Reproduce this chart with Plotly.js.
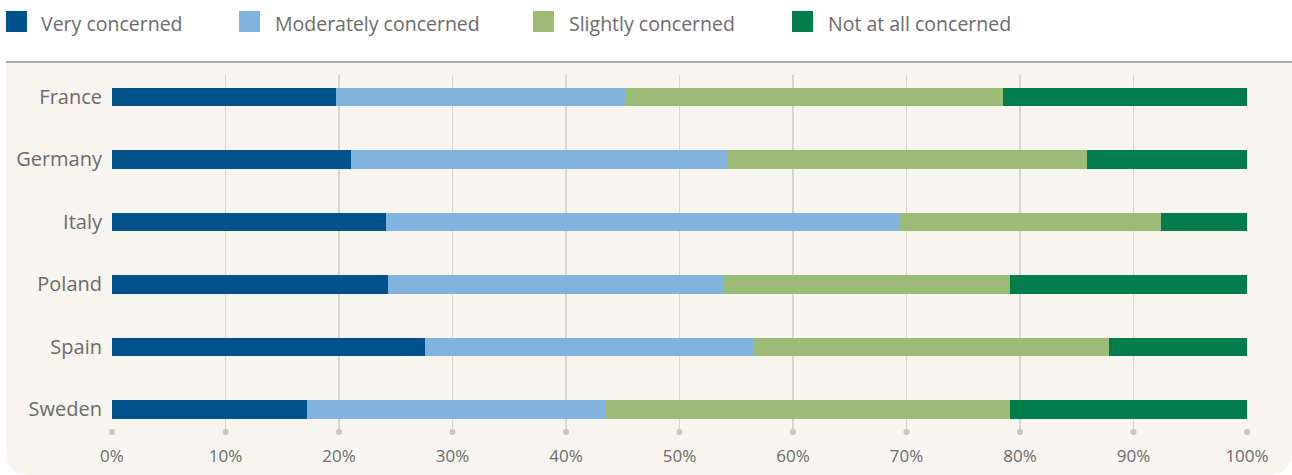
<!DOCTYPE html>
<html>
<head>
<meta charset="utf-8">
<script src="https://cdn.plot.ly/plotly-3.0.1.min.js"></script>
<style>html,body{margin:0;padding:0;background:#fff;}#chart{width:1292px;height:475px;}</style>
</head>
<body>
<div id="chart"></div>
<script>
const countries = ["France", "Germany", "Italy", "Poland", "Spain", "Sweden"];
const seriesNames = ["Very concerned", "Moderately concerned", "Slightly concerned", "Not at all concerned"];
const veryConcerned = [19.7, 21.1, 24.1, 24.3, 27.6, 17.2];
const moderatelyConcerned = [25.6, 33.1, 45.2, 29.5, 28.9, 26.3];
const slightlyConcerned = [33.2, 31.7, 23.1, 25.3, 31.3, 35.6];
const notAtAllConcerned = [21.5, 14.1, 7.6, 20.9, 12.2, 20.9];
const tickValues = [0, 10, 20, 30, 40, 50, 60, 70, 80, 90, 100];
const tickLabels = ["0%", "10%", "20%", "30%", "40%", "50%", "60%", "70%", "80%", "90%", "100%"];

const colors = ["#00528c", "#80b3dd", "#9bbb76", "#007d4a"];
const seriesValues = [veryConcerned, moderatelyConcerned, slightlyConcerned, notAtAllConcerned];

const W = 1292, H = 475;
const L = 112, R = 45, T = 75, B = 43;
const pw = W - L - R, ph = H - T - B;
const px = v => (v - L) / pw;
const py = v => (H - B - v) / ph;

const traces = seriesValues.map((vals, i) => ({
  type: "bar",
  orientation: "h",
  name: seriesNames[i],
  y: countries,
  x: vals,
  width: 0.30,
  marker: {color: colors[i], line: {width: 0}},
  showlegend: false,
  hoverinfo: "x+y+name"
}));

traces.push({
  type: "scatter",
  mode: "markers",
  x: tickValues,
  y: tickValues.map(() => 0),
  yaxis: "y2",
  marker: {color: "#c9c5c1", size: 6},
  cliponaxis: false,
  showlegend: false,
  hoverinfo: "skip"
});

const font = "Open Sans, Lato, sans-serif";
const textColor = "#6b6b6b";

const shapes = [];
const annotations = [];

// panel background with rounded bottom corners
const r = 24;
const x0 = 6, x1 = 1292, y0 = 62, y1 = 475;
shapes.push({
  type: "path",
  xref: "paper", yref: "paper",
  path: `M ${px(x0)} ${py(y0)} L ${px(x1)} ${py(y0)} L ${px(x1)} ${py(y1 - r)} Q ${px(x1)} ${py(y1)} ${px(x1 - r)} ${py(y1)} L ${px(x0 + r)} ${py(y1)} Q ${px(x0)} ${py(y1)} ${px(x0)} ${py(y1 - r)} Z`,
  fillcolor: "#f8f5f0",
  line: {width: 0},
  layer: "below"
});
shapes.push({
  type: "line", xref: "paper", yref: "paper",
  x0: px(x0), x1: px(x1), y0: py(y0), y1: py(y0),
  line: {color: "#8c8c8c", width: 1.5},
  layer: "below"
});

// legend
const legSquareX = [6, 239, 533, 792];
const legTextX = [41, 275, 569, 828];
seriesNames.forEach((n, i) => {
  shapes.push({
    type: "rect", xref: "paper", yref: "paper",
    x0: px(legSquareX[i]), x1: px(legSquareX[i] + 21),
    y0: py(11), y1: py(32),
    fillcolor: colors[i], line: {width: 0}
  });
  annotations.push({
    xref: "paper", yref: "paper",
    x: px(legTextX[i] - 2), y: py(23),
    xanchor: "left", yanchor: "middle",
    text: n, showarrow: false,
    font: {family: font, size: 19.5, color: textColor}
  });
});

const layout = {
  width: W, height: H,
  margin: {l: L, r: R, t: T, b: B, pad: 0},
  paper_bgcolor: "#ffffff",
  plot_bgcolor: "rgba(0,0,0,0)",
  barmode: "stack",
  showlegend: false,
  xaxis: {
    range: [0, 100],
    tickvals: tickValues,
    ticktext: tickLabels,
    showgrid: true,
    gridcolor: "#d9d5d1",
    gridwidth: 1.5,
    zeroline: false,
    showline: false,
    ticks: "",
    ticklabelstandoff: 12,
    tickfont: {family: font, size: 17, color: textColor},
    fixedrange: true
  },
  yaxis: {
    type: "category",
    categoryorder: "array",
    categoryarray: countries,
    range: [5.36, -0.35],
    showgrid: false,
    zeroline: false,
    showline: false,
    ticks: "",
    ticklabelstandoff: 9,
    tickfont: {family: font, size: 20, color: textColor},
    fixedrange: true
  },
  yaxis2: {
    overlaying: "y",
    range: [0, 1],
    visible: false,
    fixedrange: true
  },
  shapes: shapes,
  annotations: annotations
};

Plotly.newPlot("chart", traces, layout, {displayModeBar: false, staticPlot: true});
</script>
</body>
</html>
